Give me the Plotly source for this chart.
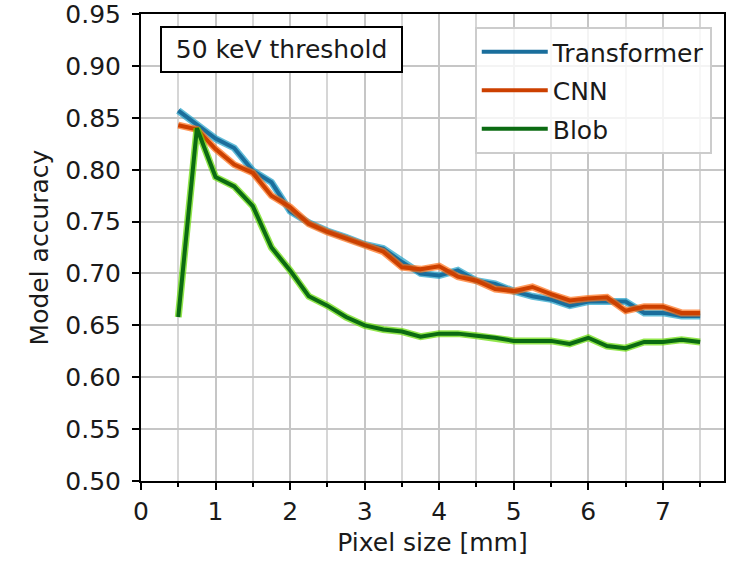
import plotly.graph_objects as go

pixel_size = [0.5, 0.75, 1.0, 1.25, 1.5, 1.75, 2.0, 2.25, 2.5, 2.75, 3.0, 3.25, 3.5, 3.75,
              4.0, 4.25, 4.5, 4.75, 5.0, 5.25, 5.5, 5.75, 6.0, 6.25, 6.5, 6.75, 7.0, 7.25, 7.5]

transformer = [0.857, 0.843, 0.830, 0.821, 0.799, 0.788, 0.760, 0.749, 0.741, 0.735, 0.728,
               0.724, 0.711, 0.700, 0.698, 0.703, 0.693, 0.690, 0.683, 0.678, 0.675, 0.669,
               0.673, 0.673, 0.673, 0.662, 0.662, 0.659, 0.659]

cnn = [0.843, 0.839, 0.820, 0.805, 0.797, 0.775, 0.764, 0.748, 0.740, 0.734, 0.727,
       0.721, 0.706, 0.704, 0.707, 0.697, 0.693, 0.685, 0.683, 0.687, 0.680, 0.674,
       0.676, 0.677, 0.664, 0.668, 0.668, 0.662, 0.662]

blob = [0.658, 0.840, 0.793, 0.784, 0.765, 0.725, 0.703, 0.678, 0.669, 0.658, 0.650,
        0.646, 0.644, 0.639, 0.642, 0.642, 0.640, 0.638, 0.635, 0.635, 0.635, 0.632,
        0.638, 0.630, 0.628, 0.634, 0.634, 0.636, 0.634]

y_ticks = [0.50, 0.55, 0.60, 0.65, 0.70, 0.75, 0.80, 0.85, 0.90, 0.95]
y_tick_labels = ["0.50", "0.55", "0.60", "0.65", "0.70", "0.75", "0.80", "0.85", "0.90", "0.95"]
x_ticks = [0, 1, 2, 3, 4, 5, 6, 7]

series = [
    ("Transformer", transformer, "#1a6e9c", "rgba(30,160,200,0.7)"),
    ("CNN", cnn, "#cc4000", "rgba(255,110,20,0.7)"),
    ("Blob", blob, "#0b6b12", "rgba(100,220,0,0.7)"),
]

FONT = "DejaVu Sans"
TXT = "#1a1a1a"
fig = go.Figure()
for name, vals, col, halo in series:
    fig.add_trace(go.Scatter(x=pixel_size, y=vals, mode="lines", showlegend=False,
                             line=dict(color=halo, width=7), hoverinfo="skip"))
    fig.add_trace(go.Scatter(x=pixel_size, y=vals, mode="lines", name=name,
                             legendgroup=name,
                             line=dict(color=col, width=4)))

fig.add_annotation(x=0.241, y=0.924, xref="paper", yref="paper",
                   text="50 keV threshold", showarrow=False,
                   xanchor="center", yanchor="middle",
                   font=dict(family=FONT, size=25, color=TXT),
                   bgcolor="white", bordercolor="black", borderwidth=2,
                   borderpad=6, width=227, height=31)

axis_common = dict(showline=True, linecolor="black", linewidth=2, mirror=True,
                   ticks="outside", tickcolor="black", tickwidth=2, ticklen=7,
                   tickfont=dict(family=FONT, size=25, color=TXT),
                   showgrid=True, gridcolor="#c6c6c6", gridwidth=1.6,
                   zeroline=False, ticklabeloverflow="allow")

fig.update_xaxes(range=[0, 7.82], tickmode="array", tickvals=x_ticks,
                 minor=dict(dtick=0.5, tick0=0, ticks="outside", ticklen=4, tickcolor="black",
                            tickwidth=1.5, showgrid=True, gridcolor="#d6d6d6", gridwidth=1.6),
                 title=dict(text="Pixel size [mm]", font=dict(family=FONT, size=25, color=TXT),
                            standoff=8),
                 **axis_common)
fig.update_yaxes(range=[0.4999, 0.9502], tickmode="array", tickvals=y_ticks, ticktext=y_tick_labels,
                 ticklabelstandoff=6,
                 title=dict(text="Model accuracy", font=dict(family=FONT, size=25, color=TXT),
                            standoff=10),
                 **axis_common)

fig.update_layout(
    width=735, height=562,
    margin=dict(l=141, r=11, t=14, b=81, autoexpand=False),
    plot_bgcolor="white", paper_bgcolor="white",
    font=dict(family=FONT, size=25, color=TXT),
    legend=dict(x=0.979, y=0.972, xanchor="right", yanchor="top",
                bgcolor="rgba(255,255,255,0.8)", bordercolor="#cccccc", borderwidth=2,
                font=dict(family=FONT, size=25, color=TXT),
                tracegroupgap=3, traceorder="grouped", itemwidth=66),
    showlegend=True,
)

fig.write_html("out.html")
